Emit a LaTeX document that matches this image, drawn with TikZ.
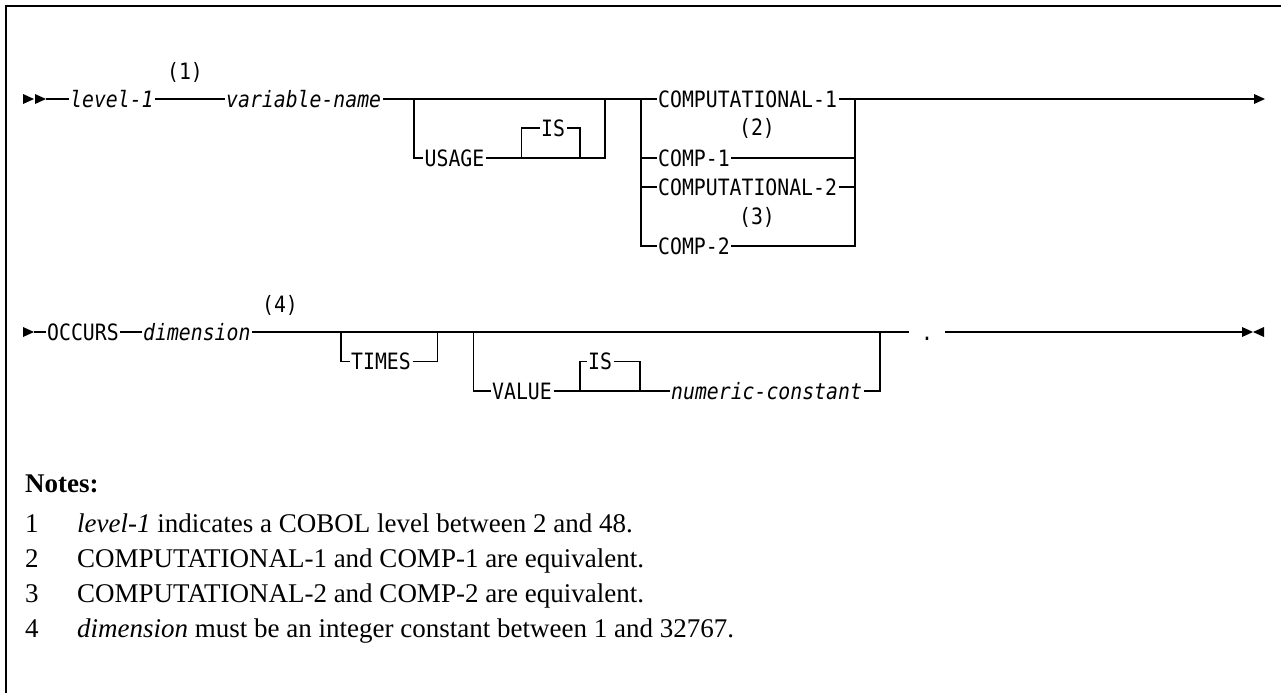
\documentclass[tikz,border=0pt]{standalone}
\usepackage{fontspec}
\setmainfont{Liberation Serif}
\setmonofont{DejaVu Sans Mono}[FakeStretch=0.88]

\tikzset{
  kw/.style={font=\ttfamily\fontsize{22.5}{24}\selectfont, inner xsep=1.5pt, inner ysep=0pt,
    text height=16.4pt, text depth=0pt, anchor=west},
  var/.style={kw, font=\ttfamily\itshape\fontsize{22.5}{24}\selectfont},
  llamada/.style={kw, anchor=center},
  linea/.style={line width=1.2pt},
  nota/.style={anchor=base west, inner sep=0pt, font=\fontsize{27}{31}\selectfont},
}

\begin{document}
\begin{tikzpicture}[x=1pt,y=-1pt]
    \useasboundingbox (0,0) rectangle (1281,693);

    % Marco
    \draw[line width=1.6pt] (6,693) -- (6,6) -- (1281,6);

    % Fila 1
    \fill (23,94) -- (34,99) -- (23,104) -- cycle;
    \fill (35,94) -- (46,99) -- (35,104) -- cycle;
    \coordinate (ini1) at (46,99);
    \node[var] (level) at (68.5,99) {level-1};
    \node[llamada] (n1) at (185,71) {(1)};
    \node[var] (varname) at (224.5,99) {variable-name};
    \node[kw] (usage) at (423,158) {USAGE};
    \node[kw] (is1) at (539.5,128) {IS};
    \node[kw] (comp1l) at (656.5,99) {COMPUTATIONAL-1};
    \node[llamada] (n2) at (757,127) {(2)};
    \node[kw] (comp1) at (656.5,158) {COMP-1};
    \node[kw] (comp2l) at (656.5,187) {COMPUTATIONAL-2};
    \node[llamada] (n3) at (757,216) {(3)};
    \node[kw] (comp2) at (656.5,246) {COMP-2};
    \coordinate (fin1) at (1254,99);
    \fill (1254,94) -- (1265,99) -- (1254,104) -- cycle;

    \draw[linea] (ini1) -- (level.west);
    \draw[linea] (level.east) -- (varname.west);
    \draw[linea] (varname.east) -- (comp1l.west);

    % Rama USAGE [IS]
    \coordinate (u1) at (414,99);
    \coordinate (u2) at (605,99);
    \coordinate (a1) at (521.5,158);
    \coordinate (a2) at (580,158);
    \draw[linea] (u1) |- (usage.west);
    \draw[linea] (usage.east) -- (a1) |- (is1.west);
    \draw[linea] (a1) -- (a2);
    \draw[linea] (is1.east) -| (a2);
    \draw[linea] (a2) -| (u2);

    % Eleccion COMP
    \coordinate (c0) at (641,99);
    \coordinate (c9) at (855,99);
    \draw[linea] (c0) |- (comp2.west);
    \foreach \n in {comp1,comp2l}
        \draw[linea] (c0 |- \n.west) -- (\n.west);
    \foreach \n in {comp1,comp2l}
        \draw[linea] (\n.east) -- (c9 |- \n.east);
    \draw[linea] (comp2.east) -| (c9);
    \draw[linea] (comp1l.east) -- (fin1);

    % Fila 2
    \fill (23,327) -- (34,332) -- (23,337) -- cycle;
    \coordinate (ini2) at (34,332);
    \node[kw] (occurs) at (45.5,332) {OCCURS};
    \node[var] (dim) at (141.5,332) {dimension};
    \node[llamada] (n4) at (280,304) {(4)};
    \node[kw] (times) at (349.5,361.5) {TIMES};
    \node[kw] (value) at (490.5,391) {VALUE};
    \node[kw] (is2) at (586.5,361.5) {IS};
    \node[var] (numc) at (669.5,391) {numeric-constant};
    \node[kw, anchor=center, minimum width=36pt, inner xsep=0pt] (punto) at (927,332) {.};
    \coordinate (fin2) at (1242,332);
    \fill (1242,327) -- (1253,332) -- (1242,337) -- cycle;
    \fill (1264,327) -- (1253,332) -- (1264,337) -- cycle;

    \draw[linea] (ini2) -- (occurs.west);
    \draw[linea] (occurs.east) -- (dim.west);
    \draw[linea] (dim.east) -- (punto.west);
    \draw[linea] (punto.east) -- (fin2);

    % Rama TIMES
    \coordinate (t1) at (341,332);
    \coordinate (t2) at (437.5,332);
    \draw[linea] (t1) |- (times.west);
    \draw[linea] (times.east) -| (t2);

    % Rama VALUE [IS] numeric-constant
    \coordinate (v1) at (473.5,332);
    \coordinate (v2) at (580,391);
    \coordinate (v3) at (640,391);
    \coordinate (v4) at (880,332);
    \draw[linea] (v1) |- (value.west);
    \draw[linea] (value.east) -- (v2) |- (is2.west);
    \draw[linea] (v2) -- (v3) -- (numc.west);
    \draw[linea] (is2.east) -| (v3);
    \draw[linea] (numc.east) -| (v4);

    % Notas
    \node[nota, font=\bfseries\fontsize{27}{31}\selectfont] (notas) at (25,492) {Notes:};
    \foreach \t [count=\i] in {
        {\textit{level-1} indicates a COBOL level between 2 and 48.},
        {COMPUTATIONAL-1 and COMP-1 are equivalent.},
        {COMPUTATIONAL-2 and COMP-2 are equivalent.},
        {\textit{dimension} must be an integer constant between 1 and 32767.}} {
        \node[nota] (num\i) at (25,{497+35*\i}) {\i};
        \node[nota] (txt\i) at (77,{497+35*\i}) {\t};
    }
\end{tikzpicture}
\end{document}
